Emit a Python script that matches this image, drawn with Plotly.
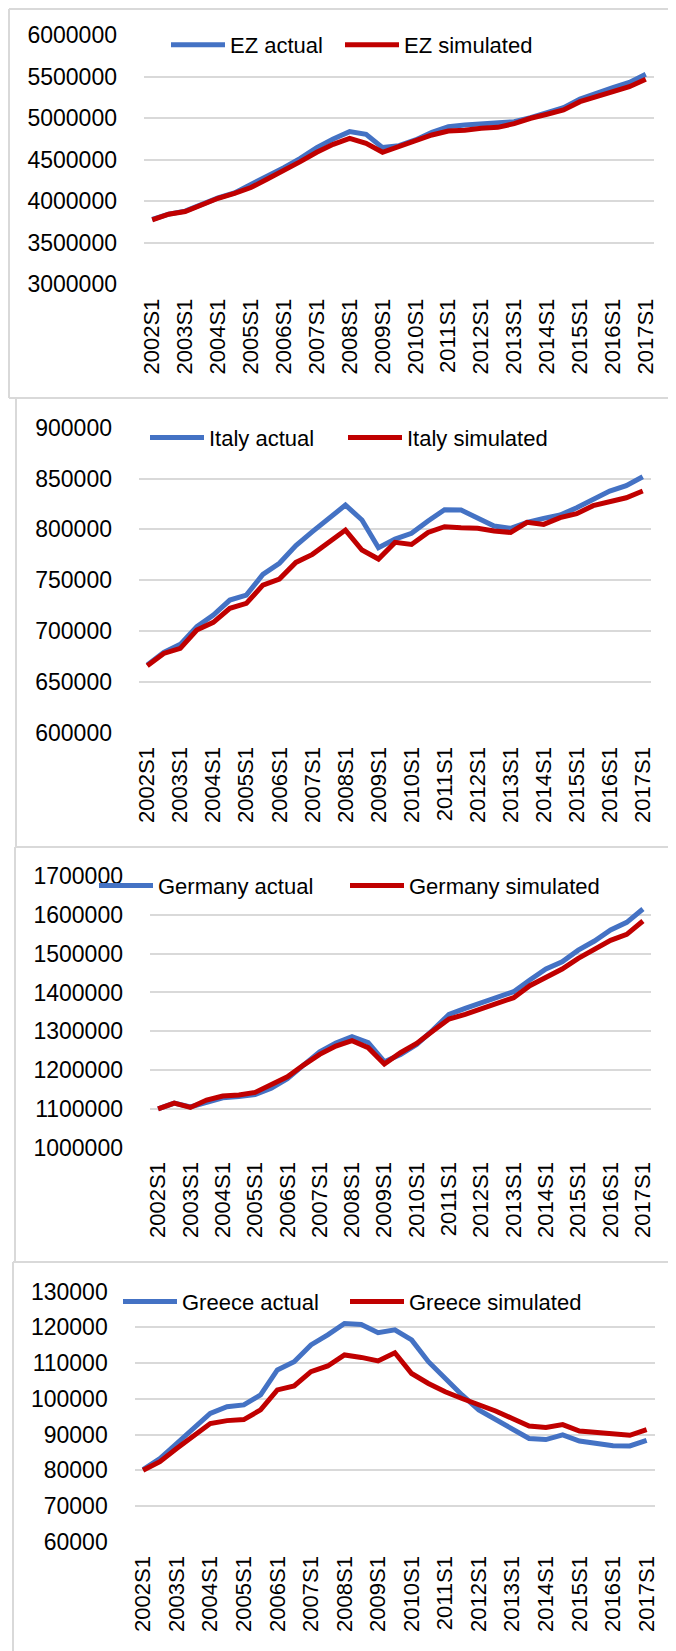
import plotly.graph_objects as go

# the page body has an 8px margin, so the figure fills the rest of the 676x1651 window
PAGE_W, PAGE_H, BODY = 676, 1651, 8
W, H = PAGE_W - BODY, PAGE_H - BODY
FONT = "Liberation Sans, Arial, sans-serif"
BLUE = "#4472C4"
RED = "#C00000"
GRID = "#D9D9D9"
SYMBOL_W = 54

periods = [
    "2002S1", "2002S2", "2003S1", "2003S2", "2004S1", "2004S2", "2005S1", "2005S2",
    "2006S1", "2006S2", "2007S1", "2007S2", "2008S1", "2008S2", "2009S1", "2009S2",
    "2010S1", "2010S2", "2011S1", "2011S2", "2012S1", "2012S2", "2013S1", "2013S2",
    "2014S1", "2014S2", "2015S1", "2015S2", "2016S1", "2016S2", "2017S1",
]
tick_labels = [
    "2002S1", "2003S1", "2004S1", "2005S1", "2006S1", "2007S1", "2008S1", "2009S1",
    "2010S1", "2011S1", "2012S1", "2013S1", "2014S1", "2015S1", "2016S1", "2017S1",
]

ez_actual = [
    3780000, 3845000, 3880000, 3960000, 4040000, 4100000, 4196000, 4296000,
    4404000, 4516000, 4645000, 4749000, 4837000, 4805000, 4645000, 4669000,
    4737000, 4829000, 4897000, 4917000, 4929000, 4937000, 4957000, 5006000,
    5062000, 5126000, 5230000, 5302000, 5366000, 5430000, 5527000,
]
ez_simulated = [
    3775000, 3843000, 3875000, 3955000, 4035000, 4095000, 4164000, 4268000,
    4368000, 4476000, 4589000, 4685000, 4757000, 4697000, 4589000, 4657000,
    4717000, 4797000, 4845000, 4853000, 4877000, 4889000, 4933000, 4998000,
    5046000, 5098000, 5198000, 5262000, 5318000, 5378000, 5467000,
]

italy_actual = [
    666600, 679000, 686900, 704300, 715700, 730500, 735400, 755700,
    766600, 784000, 797700, 811500, 823900, 809200, 782000, 790500,
    796100, 808200, 819300, 819000, 811500, 803300, 801000, 806900,
    810800, 814100, 821300, 829800, 837700, 842900, 851800,
]
italy_simulated = [
    665900, 678000, 682900, 701000, 708500, 722300, 727200, 745200,
    751100, 767500, 775400, 787200, 799300, 779700, 770800, 787200,
    785200, 797000, 802600, 801600, 801000, 798400, 797000, 806900,
    804900, 811500, 815400, 823300, 827200, 831100, 837700,
]

germany_actual = [
    1100000, 1115000, 1105000, 1118000, 1128700, 1132000, 1137000, 1153000,
    1178000, 1212900, 1247000, 1270000, 1286000, 1271000, 1221500, 1240000,
    1266000, 1303000, 1343500, 1359000, 1374000, 1386000, 1402000, 1432000,
    1460300, 1479000, 1509000, 1532500, 1561000, 1580600, 1615000,
]
germany_simulated = [
    1100000, 1115000, 1103800, 1122700, 1133000, 1135600, 1142400, 1161300,
    1182800, 1212900, 1240400, 1261900, 1275600, 1257600, 1215500, 1244700,
    1268700, 1300500, 1331400, 1343500, 1358900, 1371800, 1386400, 1417400,
    1440600, 1460300, 1487800, 1509300, 1534200, 1549700, 1584000,
]

greece_actual = [
    80200, 83300, 87500, 91700, 95900, 97800, 98300, 101100,
    108100, 110400, 115100, 117900, 121100, 120800, 118500, 119300,
    116500, 110400, 105700, 101100, 96900, 94100, 91400, 88900,
    88600, 89900, 88200, 87500, 86900, 86800, 88400,
]
greece_simulated = [
    80000, 82400, 86100, 89400, 93100, 93900, 94200, 96900,
    102500, 103600, 107600, 109200, 112300, 111600, 110600, 112900,
    107100, 104300, 102000, 100100, 98500, 96600, 94500, 92400,
    92000, 92800, 91000, 90500, 90100, 89800, 91400,
]


def fx(px):
    """Page pixel (x) to paper fraction."""
    return (px - BODY) / W


def fy(py):
    """Page pixel (y) to paper fraction."""
    return 1 - (py - BODY) / H


# panel layout in page pixels: plot box (left, right, top, bottom), frame (left, top, bottom),
# legend text starts and legend row centre
panels = [
    dict(name="EZ", actual=ez_actual, sim=ez_simulated, rng=[3000000, 6000000], dtick=500000,
         box=(144, 654, 35, 284.3), frame=(9, 9, 398), leg=(231, 405, 45)),
    dict(name="Italy", actual=italy_actual, sim=italy_simulated, rng=[600000, 900000], dtick=50000,
         box=(139, 651, 427.7, 732.7), frame=(16, 398, 847), leg=(210, 408, 437.7)),
    dict(name="Germany", actual=germany_actual, sim=germany_simulated, rng=[1000000, 1700000], dtick=100000,
         box=(150, 651, 876, 1147.7), frame=(15, 847, 1262), leg=(159, 410, 885.7)),
    dict(name="Greece", actual=greece_actual, sim=greece_simulated, rng=[60000, 130000], dtick=10000,
         box=(134.7, 655, 1291.7, 1541.7), frame=(13, 1262, None), leg=(183, 410, 1301.7)),
]

fig = go.Figure()
shapes = []
layout = {}


def legend_box(text_x, row_y):
    # one legend per entry so each label can sit exactly where the original has it
    return dict(
        orientation="h", x=fx(text_x - SYMBOL_W - 11), xanchor="left", y=fy(row_y), yanchor="middle",
        itemwidth=SYMBOL_W, bgcolor="rgba(0,0,0,0)",
        font=dict(family=FONT, size=22, color="#000000"),
        borderwidth=0, itemclick=False, itemdoubleclick=False,
    )


for k, p in enumerate(panels, start=1):
    sfx = "" if k == 1 else str(k)
    xa, ya = f"x{sfx}", f"y{sfx}"
    leg_a = "legend" if k == 1 else f"legend{2 * k - 1}"
    leg_s = f"legend{2 * k}"

    fig.add_trace(go.Scatter(
        x=periods, y=p["actual"], name=f"{p['name']} actual", mode="lines",
        line=dict(color=BLUE, width=5), xaxis=xa, yaxis=ya, legend=leg_a,
    ))
    fig.add_trace(go.Scatter(
        x=periods, y=p["sim"], name=f"{p['name']} simulated", mode="lines",
        line=dict(color=RED, width=5), xaxis=xa, yaxis=ya, legend=leg_s,
    ))

    left, right, top, bottom = p["box"]
    layout[f"xaxis{sfx}"] = dict(
        domain=[fx(left), fx(right)], anchor=ya, type="category",
        categoryorder="array", categoryarray=periods, range=[-0.5, len(periods) - 0.5],
        tickmode="array", tickvals=tick_labels, ticktext=tick_labels, tickangle=-90,
        showgrid=False, showline=False, zeroline=False, ticks="",
        ticklabelstandoff=9,
        tickfont=dict(family=FONT, size=22, color="#000000"),
    )
    layout[f"yaxis{sfx}"] = dict(
        domain=[fy(bottom), fy(top)], anchor=xa, range=p["rng"],
        dtick=p["dtick"], tick0=p["rng"][0], tickformat="d",
        showgrid=True, gridcolor=GRID, gridwidth=1.6, zeroline=False, showline=False,
        ticks="", ticklabelstandoff=26, tickfont=dict(family=FONT, size=23, color="#000000"),
    )

    t1, t2, ly = p["leg"]
    layout[leg_a] = legend_box(t1, ly)
    layout[leg_s] = legend_box(t2, ly)

    # chart frame (right edge runs past the picture)
    fl, ft, fb = p["frame"]
    fb_px = fb if fb is not None else PAGE_H
    line = dict(color=GRID, width=2)
    shapes.append(dict(type="line", xref="paper", yref="paper",
                       x0=fx(fl), x1=1, y0=fy(ft), y1=fy(ft), line=line))
    shapes.append(dict(type="line", xref="paper", yref="paper",
                       x0=fx(fl), x1=fx(fl), y0=fy(ft), y1=fy(fb_px), line=line))
    if fb is not None:
        shapes.append(dict(type="line", xref="paper", yref="paper",
                           x0=fx(fl), x1=1, y0=fy(fb), y1=fy(fb), line=line))

fig.update_layout(
    width=W, height=H,
    margin=dict(l=0, r=0, t=0, b=0, autoexpand=False),
    paper_bgcolor="#FFFFFF", plot_bgcolor="#FFFFFF",
    showlegend=True, shapes=shapes,
    **layout,
)

fig.write_html("out.html")
